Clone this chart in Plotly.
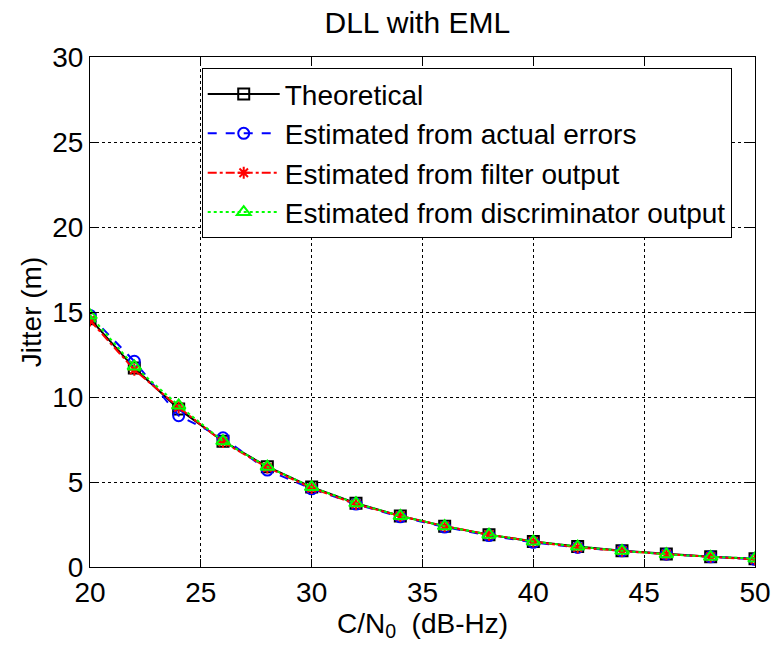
import plotly.graph_objects as go

cn0 = [20, 22, 24, 26, 28, 30, 32, 34, 36, 38, 40, 42, 44, 46, 48, 50]
theoretical = [14.6, 11.7, 9.3, 7.4, 5.9, 4.7, 3.75, 3.0, 2.4, 1.9, 1.5, 1.2, 0.95, 0.76, 0.6, 0.48]
actual_errors = [14.8, 12.1, 8.9, 7.6, 5.7, 4.6, 3.7, 2.95, 2.35, 1.85, 1.45, 1.15, 0.95, 0.75, 0.6, 0.45]
filter_output = [14.5, 11.6, 9.4, 7.35, 5.85, 4.65, 3.7, 3.0, 2.4, 1.9, 1.5, 1.15, 0.95, 0.75, 0.6, 0.45]
disc_output = [14.8, 11.8, 9.5, 7.4, 5.9, 4.7, 3.75, 3.0, 2.4, 1.9, 1.5, 1.2, 0.95, 0.75, 0.6, 0.5]

FONT = "Liberation Sans, Arial, Helvetica, sans-serif"

fig = go.Figure()
fig.add_trace(go.Scatter(x=cn0, y=theoretical, name="Theoretical", mode="lines+markers",
                         line=dict(color="black", width=2, dash="solid"),
                         marker=dict(symbol="square-open", size=11, color="black", line=dict(width=2))))
fig.add_trace(go.Scatter(x=cn0, y=actual_errors, name="Estimated from actual errors", mode="lines+markers",
                         line=dict(color="blue", width=2, dash="dash"),
                         marker=dict(symbol="circle-open", size=11, color="blue", line=dict(width=2))))
fig.add_trace(go.Scatter(x=cn0, y=filter_output, name="Estimated from filter output", mode="lines+markers",
                         line=dict(color="red", width=2, dash="dashdot"),
                         marker=dict(symbol="asterisk-open", size=10, color="red", line=dict(width=2, color="red"))))
fig.add_trace(go.Scatter(x=cn0, y=disc_output, name="Estimated from discriminator output", mode="lines+markers",
                         line=dict(color="#00ff00", width=2, dash="dot"),
                         marker=dict(symbol="triangle-up-open", size=12, color="#00ff00", line=dict(width=2))))

axis_common = dict(showline=True, linecolor="black", linewidth=1, mirror="ticks",
                   ticks="inside", ticklen=8, tickcolor="black", tickwidth=1,
                   showgrid=True, gridcolor="black", gridwidth=1, griddash="dot",
                   zeroline=False, tickfont=dict(family=FONT, size=28, color="black"))

fig.update_layout(
    width=783, height=648,
    margin=dict(l=90, r=20, t=57, b=81),
    paper_bgcolor="white", plot_bgcolor="white",
    title=dict(text="DLL with EML", x=0.533, xanchor="center", y=0.965, yanchor="middle",
               font=dict(family=FONT, size=30, color="black")),
    xaxis=dict(range=[20, 50], tickvals=[20, 25, 30, 35, 40, 45, 50],
               title=dict(text="C/N<sub>0</sub>  (dB-Hz)", font=dict(family=FONT, size=28, color="black"), standoff=4),
               **axis_common),
    yaxis=dict(range=[0, 30], tickvals=[0, 5, 10, 15, 20, 25, 30],
               title=dict(text="Jitter (m)", font=dict(family=FONT, size=28, color="black"), standoff=2),
               **axis_common),
    legend=dict(x=0.168, y=0.978, xanchor="left", yanchor="top",
                bgcolor="white", bordercolor="black", borderwidth=1,
                font=dict(family=FONT, size=28, color="black"),
                itemwidth=72, tracegroupgap=0),
    showlegend=True,
)

fig.write_html("out.html")
